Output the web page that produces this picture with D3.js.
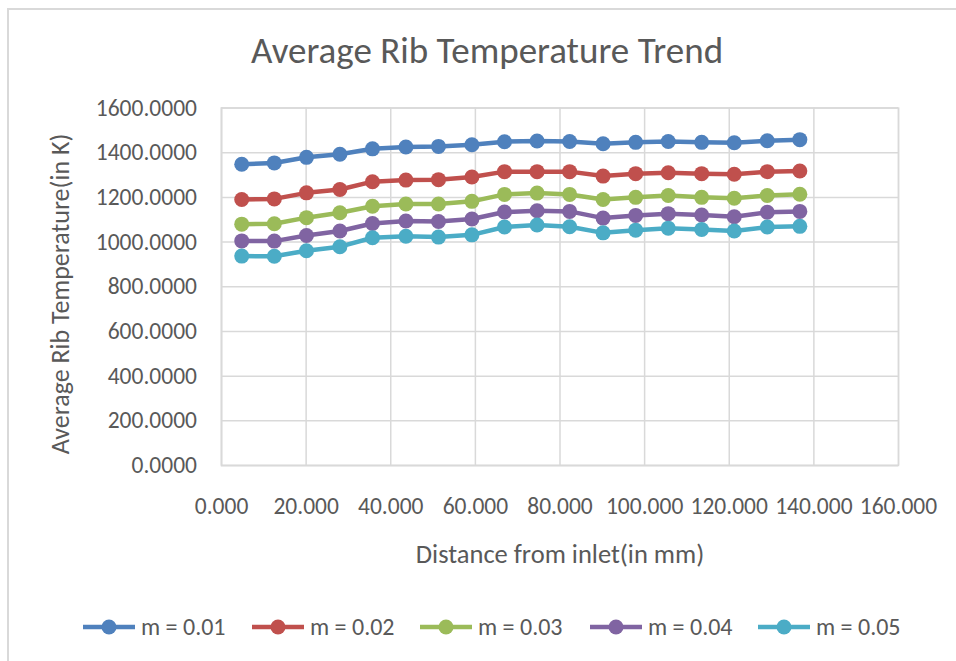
<!DOCTYPE html>
<html>
<head>
<meta charset="utf-8">
<script src="https://cdn.jsdelivr.net/npm/d3@7"></script>
<style>
  body { margin: 0; background: #fff; }
  svg { display: block; }
  text { font-family: Carlito, Lato, "Open Sans", sans-serif; fill: #595959; }
</style>
</head>
<body>
<svg class="main"></svg>
<script>
// distance from inlet (mm)
var distances = [4.9, 12.6, 20.2, 28.1, 35.8, 43.7, 51.4, 59.3, 67.0, 74.7, 82.4, 90.3, 98.0, 105.7, 113.6, 121.3, 129.1, 136.8];

// average rib temperature (K) for each mass flow
var m001 = [1346, 1352, 1377, 1391, 1415, 1423, 1426, 1433, 1447, 1450, 1448, 1438, 1444, 1448, 1444, 1442, 1451, 1456];
var m002 = [1188, 1191, 1218, 1233, 1268, 1275, 1277, 1289, 1313, 1313, 1313, 1293, 1304, 1308, 1304, 1301, 1313, 1316];
var m003 = [1078, 1080, 1107, 1129, 1158, 1168, 1168, 1180, 1211, 1217, 1211, 1188, 1198, 1206, 1198, 1194, 1206, 1212];
var m004 = [1003, 1002, 1027, 1047, 1081, 1092, 1090, 1101, 1132, 1138, 1135, 1105, 1117, 1125, 1119, 1111, 1131, 1135];
var m005 = [935, 934, 959, 977, 1017, 1024, 1020, 1030, 1065, 1074, 1066, 1039, 1051, 1060, 1054, 1047, 1065, 1068];

var seriesNames = ['m = 0.01', 'm = 0.02', 'm = 0.03', 'm = 0.04', 'm = 0.05'];
var seriesValues = [m001, m002, m003, m004, m005];
var colors = ['#4f81bd', '#c0504d', '#9bbb59', '#8064a2', '#4bacc6'];

var xTicks = [0, 20, 40, 60, 80, 100, 120, 140, 160];
var yTicks = [0, 200, 400, 600, 800, 1000, 1200, 1400, 1600];

var width = 956,
    height = 661,
    plotLeft = 221,
    plotRight = 898,
    plotTop = 107.5,
    plotBottom = 465,
    gridStroke = '#d9d9d9',
    lineWidth = 4.5,
    markerR = 7.5;

var svg = d3.select('.main')
    .attr('width', width)
    .attr('height', height);

// chart border
svg.append('rect')
    .attr('x', 8)
    .attr('y', 9)
    .attr('width', width)
    .attr('height', height)
    .attr('fill', 'none')
    .attr('stroke', gridStroke)
    .attr('stroke-width', 2);

var x = d3.scaleLinear()
    .domain([0, 160])
    .range([plotLeft, plotRight]);

var y = d3.scaleLinear()
    .domain([0, 1600])
    .range([plotBottom, plotTop]);

// gridlines
var yAxis = d3.axisLeft(y)
    .tickValues(yTicks)
    .tickSize(-(plotRight - plotLeft))
    .tickPadding(24)
    .tickFormat(d3.format('.4f'));

var xAxis = d3.axisBottom(x)
    .tickValues(xTicks)
    .tickSize(-(plotBottom - plotTop))
    .tickPadding(32)
    .tickFormat(d3.format('.3f'));

var gY = svg.append('g')
    .attr('transform', `translate(${plotLeft},0)`)
    .call(yAxis);

var gX = svg.append('g')
    .attr('transform', `translate(0,${plotBottom})`)
    .call(xAxis);

[gX, gY].forEach(function(g) {
    g.select('.domain').attr('stroke', gridStroke).attr('stroke-width', 1.5);
    g.selectAll('.tick line').attr('stroke', gridStroke).attr('stroke-width', 1.5);
    g.selectAll('.tick text')
        .style('font-size', '23.5px')
        .attr('fill', '#595959');
});

// series
var line = d3.line()
    .x(function(d, i) { return x(distances[i]); })
    .y(function(d) { return y(d); });

seriesValues.forEach(function(vals, s) {
    var g = svg.append('g').attr('class', 'series');

    g.append('path')
        .datum(vals)
        .attr('d', line)
        .attr('fill', 'none')
        .attr('stroke', colors[s])
        .attr('stroke-width', lineWidth)
        .attr('stroke-linejoin', 'round');

    g.selectAll('circle')
        .data(vals)
        .enter().append('circle')
        .attr('cx', function(d, i) { return x(distances[i]); })
        .attr('cy', function(d) { return y(d); })
        .attr('r', markerR)
        .attr('fill', colors[s]);
});

// titles
svg.append('text')
    .attr('x', 487)
    .attr('y', 63)
    .attr('text-anchor', 'middle')
    .style('font-size', '37px')
    .text('Average Rib Temperature Trend');

svg.append('text')
    .attr('x', 560)
    .attr('y', 563)
    .attr('text-anchor', 'middle')
    .style('font-size', '26.5px')
    .text('Distance from inlet(in mm)');

svg.append('text')
    .attr('transform', 'translate(69,294) rotate(-90)')
    .attr('text-anchor', 'middle')
    .style('font-size', '26px')
    .text('Average Rib Temperature(in K)');

// legend
var legendX = [83, 252, 420, 590, 758],
    legendY = 627;

var legend = svg.append('g')
    .selectAll('g')
    .data(seriesNames)
    .enter().append('g')
    .attr('transform', function(d, i) { return `translate(${legendX[i]},${legendY})`; });

legend.append('line')
    .attr('x1', 0)
    .attr('x2', 52)
    .attr('stroke', function(d, i) { return colors[i]; })
    .attr('stroke-width', lineWidth);

legend.append('circle')
    .attr('cx', 26)
    .attr('r', markerR)
    .attr('fill', function(d, i) { return colors[i]; });

legend.append('text')
    .attr('x', 58)
    .attr('dy', '0.35em')
    .style('font-size', '24px')
    .text(function(d) { return d; });
</script>
</body>
</html>
